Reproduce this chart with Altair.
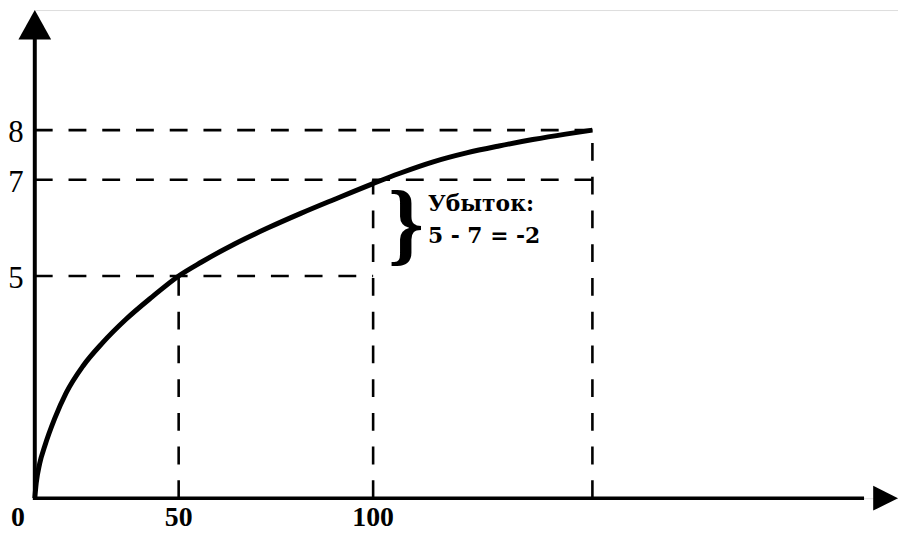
import altair as alt
import pandas as pd

# ---- data ----
curve_x = [0, 0.5, 1.7, 3.5, 6.9, 10.9, 16.7, 23.6, 31.6, 40.8, 50, 55.9, 64.5, 73,
           81.4, 90, 100, 106.1, 113.7, 121.3, 128.7, 136.4, 143.9, 150]
curve_y = [0, 0.34, 0.78, 1.18, 1.79, 2.37, 2.97, 3.5, 4.02, 4.53, 5, 5.29, 5.67, 6.0,
           6.3, 6.59, 6.92, 7.13, 7.36, 7.54, 7.68, 7.81, 7.92, 8]

x_tick_values = [50, 100]
x_tick_labels = ["50", "100"]
origin_label = "0"
y_tick_values = [8, 7, 5]
y_tick_labels = ["8", "7", "5"]

h_guide_y = [8, 7, 5]
h_guide_xend = [150, 150, 100]
v_guide_x = [50, 100, 150]
v_guide_yend = [5, 7, 8]

note_lines = ["Убыток:", "5 - 7 = -2"]
note_x = [112.5, 112.5]
note_y = [6.49, 5.82]
brace_x = [107.5]
brace_y = [6.05]

x_axis_end = 240
y_axis_end = 10.4

# ---- tables ----
curve = pd.DataFrame({"x": curve_x, "y": curve_y})
h_guides = pd.DataFrame({"x": [0] * len(h_guide_y), "x2": h_guide_xend, "y": h_guide_y})
v_guides = pd.DataFrame({"x": v_guide_x, "y": [0] * len(v_guide_x), "y2": v_guide_yend})
xt = pd.DataFrame({"x": x_tick_values, "y": [0] * len(x_tick_values), "label": x_tick_labels})
yt = pd.DataFrame({"x": [0] * len(y_tick_values), "y": y_tick_values, "label": y_tick_labels})
orig = pd.DataFrame({"x": [0], "y": [0], "label": [origin_label]})
notes = pd.DataFrame({"x": note_x, "y": note_y, "label": note_lines})
brace = pd.DataFrame({"x": brace_x, "y": brace_y, "label": ["}"]})
xaxis = pd.DataFrame({"x": [0], "x2": [x_axis_end - 10], "y": [0]})
yaxis = pd.DataFrame({"x": [0], "y": [-0.04], "y2": [y_axis_end - 0.5]})
xarrow = pd.DataFrame({"x": [x_axis_end], "y": [0]})
yarrow = pd.DataFrame({"x": [0], "y": [y_axis_end]})

xs = alt.Scale(domain=[0, 50, 100, 150, x_axis_end], range=[0, 145, 341, 562, 870],
               nice=False, zero=False)
ys = alt.Scale(domain=[0, 5, 7, 8, y_axis_end], range=[492, 268, 171, 121, 0],
               nice=False, zero=False)


def X(f="x"):
    return alt.X(f"{f}:Q", scale=xs, axis=None)


def Y(f="y"):
    return alt.Y(f"{f}:Q", scale=ys, axis=None)


dash = [18, 16]
serif = "Liberation Serif"

hg = alt.Chart(h_guides).mark_rule(color="black", strokeWidth=2.6, strokeDash=dash).encode(
    x=X(), x2="x2:Q", y=Y())
vg = alt.Chart(v_guides).mark_rule(color="black", strokeWidth=2.6, strokeDash=dash).encode(
    x=X(), y=Y(), y2="y2:Q")
xa = alt.Chart(xaxis).mark_rule(color="black", strokeWidth=3.5).encode(x=X(), x2="x2:Q", y=Y())
ya = alt.Chart(yaxis).mark_rule(color="black", strokeWidth=4).encode(x=X(), y=Y(), y2="y2:Q")
xarr = alt.Chart(xarrow).mark_point(shape="M0,0L-2,-1L-2,1Z", size=625, filled=True,
                                    color="black", opacity=1).encode(x=X(), y=Y())
yarr = alt.Chart(yarrow).mark_point(shape="M0,0L1,1.8L-1,1.8Z", size=1089, filled=True,
                                    color="black", opacity=1).encode(x=X(), y=Y())
line = alt.Chart(curve).mark_line(color="black", strokeWidth=5, interpolate="monotone").encode(
    x=X(), y=Y(), order="x:Q")

xlab = alt.Chart(xt).mark_text(font=serif, fontWeight="bold", fontSize=28, dy=20,
                               baseline="middle", align="center", color="black").encode(
    x=X(), y=Y(), text="label:N")
olab = alt.Chart(orig).mark_text(font=serif, fontWeight="bold", fontSize=28, dy=20, dx=-17,
                                 baseline="middle", align="center", color="black").encode(
    x=X(), y=Y(), text="label:N")
ylab = alt.Chart(yt).mark_text(font=serif, fontSize=31, dx=-19, dy=3,
                               baseline="middle", align="center", color="black").encode(
    x=X(), y=Y(), text="label:N")
note = alt.Chart(notes).mark_text(font="DejaVu Serif", fontWeight="bold", fontSize=22,
                                  baseline="middle", align="left", color="black").encode(
    x=X(), y=Y(), text="label:N")
br = alt.Chart(brace).mark_text(font=serif, fontWeight="bold", fontSize=92, baseline="middle",
                                align="center", color="black").encode(x=X(), y=Y(), text="label:N")

chart = alt.layer(hg, vg, line, xa, ya, xarr, yarr, xlab, olab, ylab, note, br).properties(
    width=870, height=492,
    autosize=alt.AutoSizeParams(type="none"),
    padding={"left": 27, "top": 0, "right": 0, "bottom": 34},
).configure_view(strokeWidth=0, strokeOpacity=0, fill="white").configure(background="white")

chart.save("out.html", embed_options={"renderer": "svg", "actions": False})
